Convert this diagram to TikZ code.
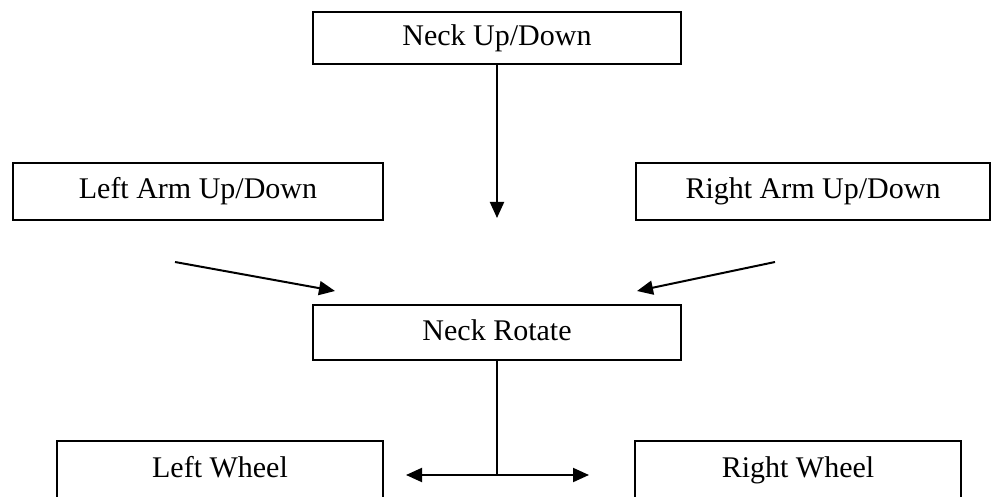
\documentclass[tikz,border=0pt]{standalone}
\usepackage{fontspec}
\setmainfont{Liberation Serif}
\usetikzlibrary{arrows.meta}
\begin{document}
\begin{tikzpicture}[x=0.5pt,y=-0.5pt, line width=1pt,
  txt/.style={rectangle, inner sep=0pt, text height=10.5pt, text depth=3pt, font=\fontsize{15}{18}\selectfont},
  box/.style={txt, draw},
  arr/.style={-{Triangle[length=8pt,width=7pt]}},
  darr/.style={{Triangle[length=8pt,width=7pt]}-{Triangle[length=8pt,width=7pt]}}]
\fill[white] (0,0) rectangle (995,497);
\useasboundingbox (0,0) rectangle (995,497);
% boxes
\node[box, minimum width=184pt, minimum height=26pt] (nud) at (497,38) {Neck Up/Down};
\node[box, minimum width=185pt, minimum height=28.5pt] (larm) at (198,191.5) {Left Arm Up/Down};
\node[box, minimum width=177pt, minimum height=28.5pt] (rarm) at (813,191.5) {Right Arm Up/Down};
\node[box, minimum width=184pt, minimum height=27.5pt] (nrot) at (497,332.5) {Neck Rotate};
\node[txt, minimum width=162pt, minimum height=27.5pt] (lwh) at (220,469.5) {Left Wheel};
\node[txt, minimum width=162pt, minimum height=27.5pt] (rwh) at (798,469.5) {Right Wheel};
\draw (lwh.south west) -- (lwh.north west) -- (lwh.north east) -- (lwh.south east);
\draw (rwh.south west) -- (rwh.north west) -- (rwh.north east) -- (rwh.south east);
% free ends
\coordinate (nudtip) at (497,218);
\coordinate (la0) at (175,262);
\coordinate (la1) at (335,291);
\coordinate (ra0) at (775,262);
\coordinate (ra1) at (637,291);
\coordinate (j) at (497,475);
\coordinate (lw) at (406,475);
\coordinate (rw) at (589,475);
% connectors
\draw[arr] (nud.south) -- (nudtip);
\draw[arr] (la0) -- (la1);
\draw[arr] (ra0) -- (ra1);
\draw (nrot.south) -- (j);
\draw[darr] (lw) -- (rw);
\end{tikzpicture}
\end{document}
